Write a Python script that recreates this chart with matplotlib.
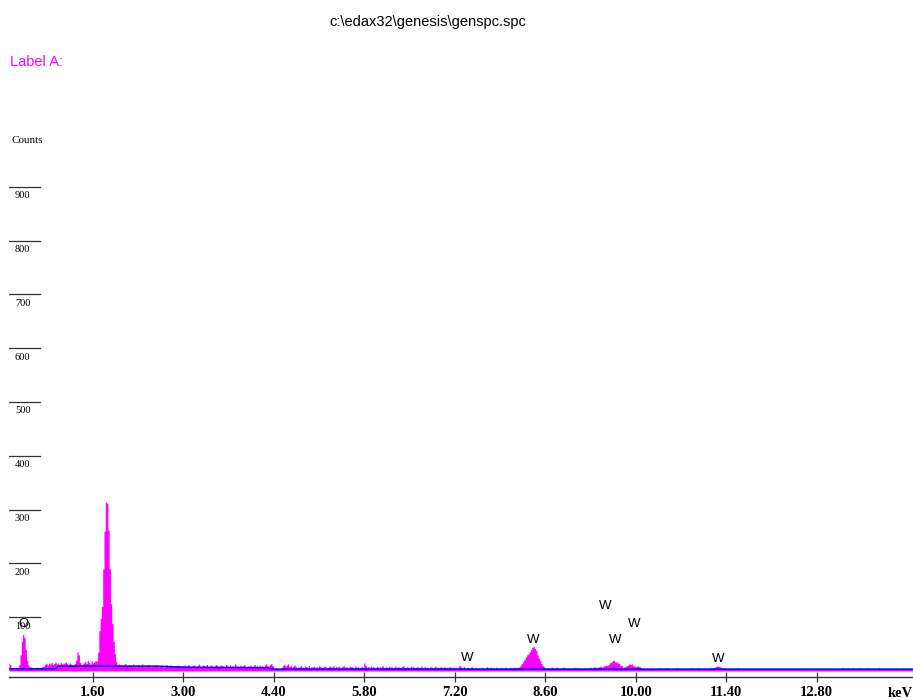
import numpy as np
import matplotlib
matplotlib.use("Agg")
import matplotlib.pyplot as plt

# spectrum channels, 0.02 keV wide, starting at 0.30 keV
CH_START = 0.30
CH_WIDTH = 0.02

low_end = [15, 12, 6, 5, 4, 5, 5, 6]                       # 0.30 - 0.44
o_peak = [12, 30, 55, 68, 62, 40, 20, 11]                   # 0.46 - 0.60
pre_bump = [8, 7, 6, 6, 5, 6, 7, 6, 5, 7, 8, 9]              # 0.62 - 0.84
bump = [12, 14, 11, 15, 13, 16, 12, 14, 17, 13, 15,
        12, 16, 14, 13, 15, 17, 14, 12, 15, 13, 11]          # 0.86 - 1.28
al_peak = [12, 14, 20, 35, 30, 16, 12, 13, 15]               # 1.30 - 1.46
pre_main = [18, 14, 20, 16, 13, 19, 15, 17, 20]              # 1.48 - 1.64
main_peak = [18, 35, 75, 98, 120, 190, 260, 314, 312,
             262, 190, 125, 88, 55, 32, 18, 12]               # 1.66 - 1.98
bg_2 = [13, 10, 12, 9, 11, 14, 10, 9, 12, 11,
        10, 13, 9, 8, 11, 12, 10, 9, 13, 10,
        8, 11, 9, 12, 10, 8, 9, 11, 10, 12,
        9, 8, 10, 11, 9, 7, 10, 12, 9, 8,
        11, 10, 9, 8, 10, 9, 11, 8, 10, 9]                   # 2.00 - 2.98
bg_3 = [9, 11, 8, 10, 12, 9, 8, 10, 11, 9,
        8, 10, 13, 9, 8, 11, 10, 9, 12, 8,
        9, 11, 10, 8, 9, 12, 10, 8, 9, 11,
        10, 9, 8, 12, 10, 9, 11, 8, 10, 9,
        13, 10, 9, 8, 11, 9, 10, 12, 9, 8,
        10, 9, 11, 8, 10, 12, 9, 10, 8, 11,
        9, 10, 8, 11, 13, 10, 9, 12, 14, 10]                 # 3.00 - 4.38
bg_4 = [5, 4, 3, 4, 4, 4, 7, 10, 12, 9,
        11, 13, 8, 10, 7, 9, 11, 8, 6, 7,
        8, 10, 7, 6, 9, 8, 7, 10, 6, 8,
        7, 9, 6, 8, 7, 10, 8, 6, 7, 9,
        8, 6, 7, 9, 8, 7, 10, 6, 8, 7,
        9, 7, 6, 8, 10, 7, 8, 6, 7, 9,
        8, 7, 6, 9, 7, 8, 6, 7, 8, 7]                        # 4.40 - 5.78
bg_6 = [15, 10, 7, 8, 6, 9, 7, 8, 6, 7,
        9, 6, 8, 7, 10, 6, 7, 8, 6, 9,
        7, 8, 6, 7, 9, 6, 8, 7, 6, 8,
        10, 7, 6, 8, 7, 6, 9, 7, 8, 6,
        7, 8, 6, 7, 9, 6, 7, 8, 6, 7,
        6, 8, 7, 6, 7, 9, 6, 7, 6, 8,
        7, 6, 8, 6, 7, 6, 8, 7, 6, 7]                        # 5.80 - 7.18
bg_7 = [6, 7, 5, 9, 10, 7, 6, 8, 5, 6,
        7, 5, 6, 8, 6, 5, 7, 6, 5, 6,
        5, 7, 6, 5, 6, 8, 5, 6, 7, 5,
        6, 5, 7, 6, 5, 6, 7, 5, 6, 7,
        6, 5, 6, 7, 5, 6, 7, 6, 7, 6]                        # 7.20 - 8.18
w_la = [8, 11, 14, 18, 22, 26, 30, 32, 36, 40, 44, 46,
        42, 38, 30, 24, 20, 14, 10, 8, 6, 6, 5]               # 8.20 - 8.64
bg_9 = [6, 5, 7, 6, 5, 6, 7, 5, 6, 5,
        6, 7, 5, 6, 5, 6, 4, 5, 6, 5,
        7, 6, 5, 6, 5, 4, 5, 6, 5, 6,
        5, 6, 7, 5, 6, 8, 6, 7, 7]                           # 8.66 - 9.42
w_lb = [8, 8, 7, 9, 10, 11, 10, 12, 15, 16, 19, 20, 17,
        17, 15, 14, 11, 10, 6, 7, 8, 10, 11, 13, 12, 13,
        10, 9, 8, 9, 9, 8, 6]                                # 9.44 - 10.08
bg_high = [5, 4, 3, 3, 4, 3, 4, 5, 4, 3,
           4, 5, 4, 6, 5, 4, 5, 4, 5, 6,
           5, 4, 3, 4, 5, 4, 5, 6, 4, 5,
           4, 5, 4, 5, 3, 4, 5, 4, 6, 5,
           4, 5, 4, 6, 5, 4, 5, 4, 5, 4,
           5, 4, 5, 6, 5, 6, 7, 8, 9, 9,
           8, 7, 6, 5, 6, 5, 4, 5, 4, 5,
           4, 5, 4, 5, 6, 4, 5, 4, 5, 4,
           5, 4, 5, 4, 4, 5, 4, 5, 4, 5,
           4, 5, 4, 5, 4, 4, 5, 4, 5, 4,
           5, 4, 4, 5, 4, 5, 4, 4, 5, 4,
           4, 5, 4, 4, 5, 4, 4, 5, 4, 4,
           4, 5, 4, 4, 3, 4, 4, 3, 4, 4,
           3, 4, 4, 3, 4, 4, 3, 4, 3, 4,
           4, 3, 4, 4, 3, 4, 5, 4, 3, 4,
           4, 5, 4, 3, 4, 6, 4, 4, 5, 4,
           5, 4, 4, 6, 4, 4, 5, 4, 6, 4,
           4, 5, 4, 4, 6, 4, 4, 5, 4, 4,
           5, 4, 4, 6, 4, 5, 4, 4, 5, 4,
           4, 5, 4, 4, 5, 4, 4, 5, 4, 4,
           4, 4, 5, 4, 4, 4, 5, 4, 4, 4]                     # 10.10 - 14.28

# fitted background
bkg_kev = [0.30, 1.02, 1.06, 2.60, 3.00, 4.30, 4.40, 14.29]
bkg_counts = [4, 4, 9, 9, 7, 6, 3.5, 3.5]

# peak labels
label_text = ["O", "W", "W", "W", "W", "W", "W"]
label_kev = [0.53, 7.39, 8.41, 9.52, 9.68, 9.97, 11.28]
label_counts = [88, 25, 58, 121, 57, 88, 23]

x_ticks = [1.60, 3.00, 4.40, 5.80, 7.20, 8.60, 10.00, 11.40, 12.80]
y_ticks = [100, 200, 300, 400, 500, 600, 700, 800, 900]

counts = np.concatenate([low_end, o_peak, pre_bump, bump, al_peak, pre_main,
                         main_peak, bg_2, bg_3, bg_4, bg_6, bg_7, w_la, bg_9,
                         w_lb, bg_high])
energy = CH_START + CH_WIDTH * np.arange(len(counts))

MAGENTA = "#FF00FF"
serif = "Liberation Serif"
sans = "Liberation Sans"

fig = plt.figure(figsize=(9.13, 7.0), dpi=100)
ax = fig.add_axes([9 / 913, 23 / 700, 904 / 913, 577 / 700])
ax.set_xlim(0.30, 14.29)
ax.set_ylim(-11.16, 1061.4)

ax.fill_between(energy, counts, step="mid", color=MAGENTA, linewidth=0)
ax.plot(bkg_kev, bkg_counts, color="#0000FF", linewidth=1.1)

for t, xk, yc in zip(label_text, label_kev, label_counts):
    ax.text(xk, yc, t, family=sans, fontsize=9.5, ha="center", va="center")

# y scale: short rules with the value underneath
ytr = ax.get_yaxis_transform()
for v in y_ticks:
    ax.plot([0, 0.034], [v, v], color="#333333", linewidth=0.9, transform=ytr)
    ax.text(0.0066, v - 8, str(v), transform=ytr, family=serif, fontsize=7.5,
            ha="left", va="top")
ax.text(0.0033, 987, "Counts", transform=ytr, family=serif, fontsize=8,
        ha="left", va="center")

for side in ["top", "right", "left"]:
    ax.spines[side].set_visible(False)
ax.spines["bottom"].set_color("#333333")
ax.spines["bottom"].set_linewidth(1.0)
ax.set_yticks([])
ax.set_xticks(x_ticks)
ax.set_xticklabels(["%.2f" % t for t in x_ticks], family=serif,
                   fontweight="bold", fontsize=10.5)
ax.tick_params(axis="x", direction="inout", length=6.5, width=0.9,
               color="#333333", pad=3.2)
ax.text(13.90, -11.16 - 9.5 / 0.5375, "keV", family=serif, fontweight="bold",
        fontsize=10.5, ha="left", va="top")

fig.text(428 / 913, 1 - 22 / 700, r"c:\edax32\genesis\genspc.spc",
         family=sans, fontsize=10.5, ha="center", va="center")
fig.text(10 / 913, 1 - 62 / 700, "Label A:", family=sans, fontsize=10.5,
         color=MAGENTA, ha="left", va="center")

fig.savefig("out.png", dpi=100)
